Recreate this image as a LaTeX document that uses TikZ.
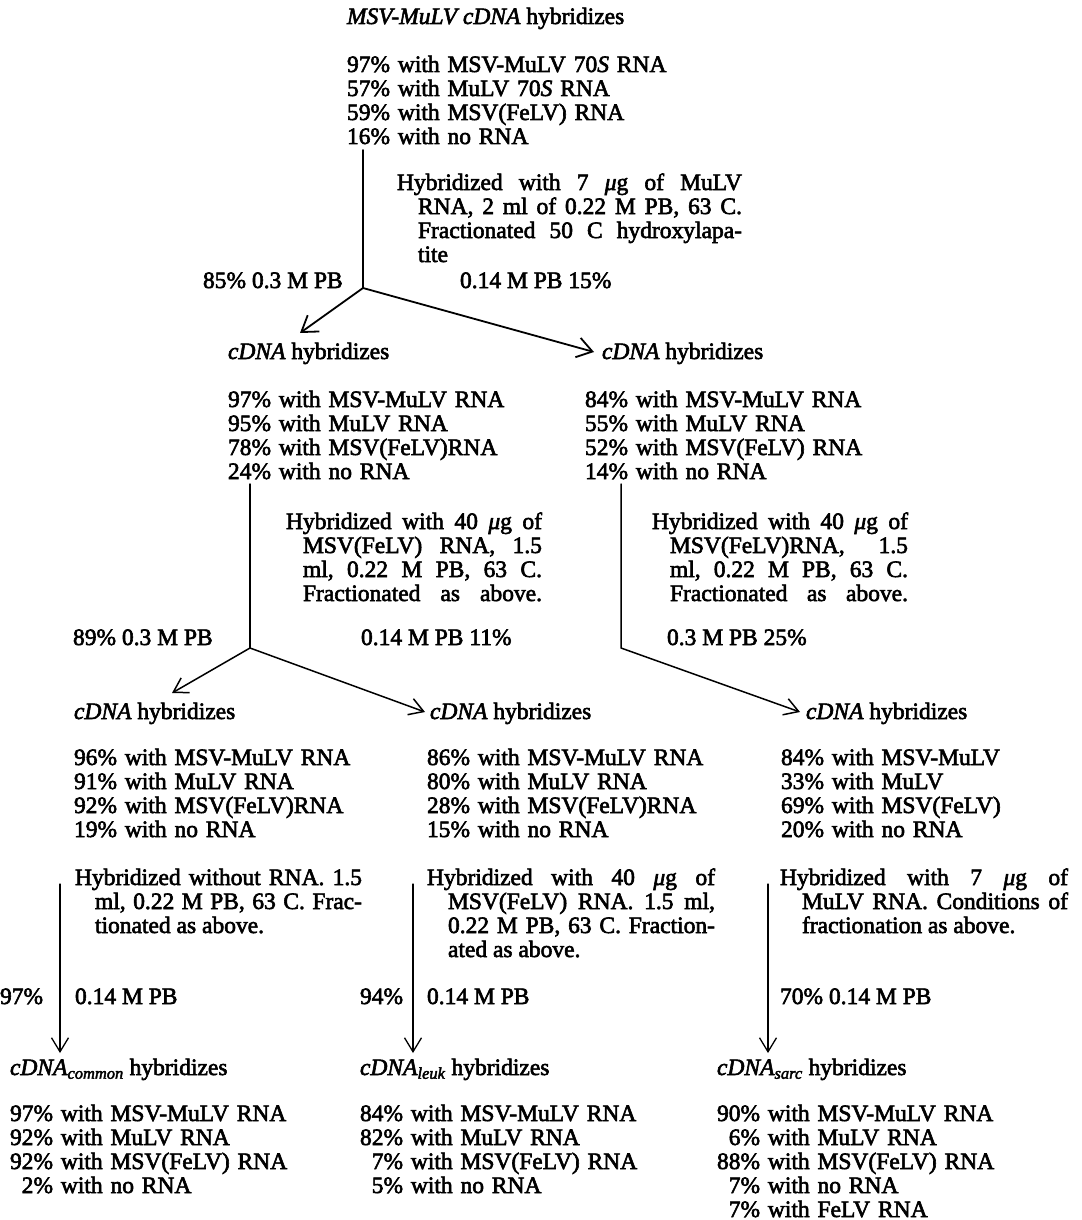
\documentclass[tikz,border=0pt]{standalone}
\usepackage{fontspec}
\setmainfont{Liberation Serif}[FakeBold=2.5]
\usetikzlibrary{arrows.meta}
\newcommand\diagfont{\fontsize{23.5}{24}\selectfont\frenchspacing\tolerance=10000\hyphenpenalty=10000\relax}
\newcommand\dsp{\phantom{0}}
\begin{document}
\begin{tikzpicture}[x=1pt,y=-1pt,
  lbl/.style={anchor=base west, inner sep=0pt, outer sep=0pt, font=\diagfont},
  block/.style={lbl, text width=420pt, align=left},
  para/.style={lbl, text width=#1, align=justify},
  conn/.style={line width=#1, line cap=round, line join=round},
  conn/.default=1.5pt,
  arr/.style={conn=#1, -{Straight Barb[length=14pt,width=17pt]}},
  arr/.default=1.5pt,
  bigarr/.style={conn=#1, -{Straight Barb[length=15pt,width=20pt]}},
  bigarr/.default=1.8pt]
\fill[white] (0,0) rectangle (1081,1220);
\useasboundingbox (0,0) rectangle (1081,1220);

% ---------- level 0
\node[lbl] (title) at (347,24) {\textit{MSV-MuLV cDNA} hybridizes};
\node[block] (d0) at (347,72) {97\% with MSV-MuLV 70\textit{S} RNA\\57\% with MuLV 70\textit{S} RNA\\59\% with MSV(FeLV) RNA\\16\% with no RNA};
\node[para=345pt] (p0) at (397,190) {\hangindent=21pt\hangafter=1 Hybridized with 7 {\itshape μ}g of MuLV\linebreak RNA, 2 ml of 0.22 M PB, 63 C.\linebreak Fractionated 50 C hydroxylapa-\linebreak tite\par};
\node[lbl] (l0a) at (203,288) {85\% 0.3 M PB};
\node[lbl] (l0b) at (460,288) {0.14 M PB 15\%};
\coordinate (s0) at (363,150);
\coordinate (j0) at (363,288);
\coordinate (t0a) at (300,333);
\coordinate (t0b) at (594,352);
\draw[conn=1.8pt] (s0) -- (j0);
\draw[bigarr] (j0) -- (t0a);
\draw[bigarr] (j0) -- (t0b);

% ---------- level 1
\node[lbl] (h1a) at (228,359) {\textit{cDNA} hybridizes};
\node[lbl] (h1b) at (602,359) {\textit{cDNA} hybridizes};
\node[block] (d1a) at (228,407) {97\% with MSV-MuLV RNA\\95\% with MuLV RNA\\78\% with MSV(FeLV)RNA\\24\% with no RNA};
\node[block] (d1b) at (585,407) {84\% with MSV-MuLV RNA\\55\% with MuLV RNA\\52\% with MSV(FeLV) RNA\\14\% with no RNA};
\node[para=256pt] (p1a) at (286,529) {\parfillskip=0pt\hangindent=17pt\hangafter=1 Hybridized with 40 {\itshape μ}g of\linebreak MSV(FeLV) RNA, 1.5\linebreak ml, 0.22 M PB, 63 C.\linebreak Fractionated as above.\par};
\node[para=256pt] (p1b) at (652,529) {\parfillskip=0pt\hangindent=18pt\hangafter=1 Hybridized with 40 {\itshape μ}g of\linebreak MSV(FeLV)RNA, 1.5\linebreak ml, 0.22 M PB, 63 C.\linebreak Fractionated as above.\par};
\node[lbl] (l1a) at (73,645) {89\% 0.3 M PB};
\node[lbl] (l1b) at (361,645) {0.14 M PB 11\%};
\node[lbl] (l1c) at (667,645) {0.3 M PB 25\%};
\coordinate (s1a) at (250,484);
\coordinate (j1a) at (250,648);
\coordinate (s1b) at (621,484);
\coordinate (k1b) at (621,648);
\coordinate (t1a) at (172,693);
\coordinate (t1b) at (425,712);
\coordinate (t1c) at (800,712);
\draw[conn] (s1a) -- (j1a);
\draw[arr] (j1a) -- (t1a);
\draw[arr] (j1a) -- (t1b);
\draw[arr] (s1b) -- (k1b) -- (t1c);

% ---------- level 2
\node[lbl] (h2a) at (74,719) {\textit{cDNA} hybridizes};
\node[lbl] (h2b) at (430,719) {\textit{cDNA} hybridizes};
\node[lbl] (h2c) at (806,719) {\textit{cDNA} hybridizes};
\node[block] (d2a) at (74,765) {96\% with MSV-MuLV RNA\\91\% with MuLV RNA\\92\% with MSV(FeLV)RNA\\19\% with no RNA};
\node[block] (d2b) at (427,765) {86\% with MSV-MuLV RNA\\80\% with MuLV RNA\\28\% with MSV(FeLV)RNA\\15\% with no RNA};
\node[block] (d2c) at (781,765) {84\% with MSV-MuLV\\33\% with MuLV\\69\% with MSV(FeLV)\\20\% with no RNA};
\node[para=287pt] (p2a) at (75,885) {\hangindent=20pt\hangafter=1 Hybridized without RNA. 1.5\linebreak ml, 0.22 M PB, 63 C. Frac-\linebreak tionated as above.\par};
\node[para=288pt] (p2b) at (427,885) {\hangindent=21pt\hangafter=1 Hybridized with 40 {\itshape μ}g of\linebreak MSV(FeLV) RNA. 1.5 ml,\linebreak 0.22 M PB, 63 C. Fraction-\linebreak ated as above.\par};
\node[para=288pt] (p2c) at (780,885) {\hangindent=22pt\hangafter=1 Hybridized with 7 {\itshape μ}g of\linebreak MuLV RNA. Conditions of\linebreak fractionation as above.\par};
\node[lbl] (l2a1) at (0,1004) {97\%};
\node[lbl] (l2a2) at (75,1004) {0.14 M PB};
\node[lbl] (l2b1) at (360,1004) {94\%};
\node[lbl] (l2b2) at (427,1004) {0.14 M PB};
\node[lbl] (l2c) at (780,1004) {70\% 0.14 M PB};
\coordinate (s2a) at (60,884);
\coordinate (t2a) at (60,1053);
\coordinate (s2b) at (413,884);
\coordinate (t2b) at (413,1053);
\coordinate (s2c) at (768,884);
\coordinate (t2c) at (768,1053);
\draw[arr=1.3pt] (s2a) -- (t2a);
\draw[arr=1.3pt] (s2b) -- (t2b);
\draw[arr=1.3pt] (s2c) -- (t2c);

% ---------- level 3
\node[lbl] (h3a) at (10,1075) {\textit{cDNA}\textsubscript{\textit{common}} hybridizes};
\node[lbl] (h3b) at (360,1075) {\textit{cDNA}\textsubscript{\textit{leuk}} hybridizes};
\node[lbl] (h3c) at (717,1075) {\textit{cDNA}\textsubscript{\textit{sarc}} hybridizes};
\node[block] (d3a) at (10,1121) {97\% with MSV-MuLV RNA\\92\% with MuLV RNA\\92\% with MSV(FeLV) RNA\\\dsp2\% with no RNA};
\node[block] (d3b) at (360,1121) {84\% with MSV-MuLV RNA\\82\% with MuLV RNA\\\dsp7\% with MSV(FeLV) RNA\\\dsp5\% with no RNA};
\node[block] (d3c) at (717,1121) {90\% with MSV-MuLV RNA\\\dsp6\% with MuLV RNA\\88\% with MSV(FeLV) RNA\\\dsp7\% with no RNA\\\dsp7\% with FeLV RNA};
\end{tikzpicture}
\end{document}
